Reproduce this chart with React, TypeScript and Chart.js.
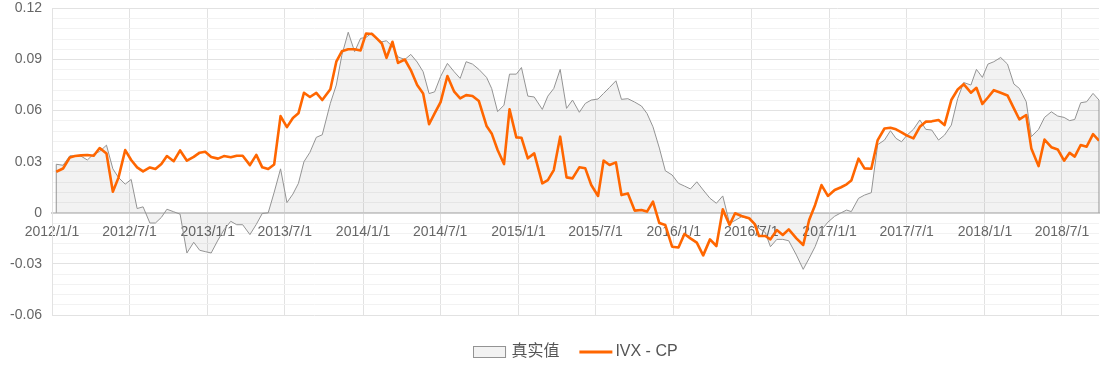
import React, { useEffect, useRef } from 'react';
import { Chart, registerables } from 'chart.js';

Chart.register(...registerables);

// Observation dates, as days since 2012-01-01
const dayOffsets = [
  10, 26, 42, 54, 68, 83, 98, 112, 128, 143, 156, 172, 186, 200, 214, 230, 243, 257, 270, 286,
  301, 317, 333, 347, 360, 374, 390, 404, 420, 434, 448, 465, 480, 494, 508, 522, 537, 552, 566, 579,
  592, 606, 621, 635, 654, 668, 681, 696, 711, 725, 738, 752, 763, 775, 786, 800, 813, 829, 843, 858,
  872, 886, 899, 913, 929, 945, 959, 973, 988, 1003, 1021, 1033, 1047, 1062, 1075, 1091, 1103, 1118, 1133, 1152,
  1165, 1179, 1194, 1209, 1223, 1239, 1253, 1267, 1283, 1296, 1310, 1325, 1338, 1353, 1369, 1385, 1398, 1412, 1427, 1441,
  1457, 1472, 1486, 1500, 1515, 1530, 1546, 1561, 1576, 1592, 1605, 1620, 1638, 1651, 1661, 1676, 1688, 1703, 1717, 1731,
  1749, 1765, 1779, 1793, 1808, 1823, 1839, 1854, 1867, 1878, 1895, 1909, 1925, 1940, 1956, 1970, 1983, 1996, 2009, 2024,
  2039, 2053, 2067, 2083, 2097, 2113, 2128, 2142, 2159, 2172, 2186, 2199, 2213, 2229, 2245, 2260, 2273, 2289, 2301, 2318,
  2332, 2348, 2363, 2378, 2391, 2403, 2417, 2431, 2446, 2460,
];

// 真实值
const truthValues = [
  0.0285, 0.0279, 0.0335, 0.0335, 0.0333, 0.031, 0.0345, 0.036, 0.0397, 0.0258, 0.0208, 0.0168, 0.0196, 0.0025, 0.0035, -0.006, -0.006, -0.0027, 0.0021, 0.0006,
  -0.0008, -0.0236, -0.0173, -0.022, -0.0228, -0.0236, -0.016, -0.01, -0.005, -0.007, -0.007, -0.0128, -0.0068, -0.0004, 0, 0.012, 0.0258, 0.006, 0.011, 0.0173,
  0.03, 0.0355, 0.0443, 0.0458, 0.0643, 0.075, 0.0925, 0.106, 0.0946, 0.1024, 0.103, 0.1057, 0.1018, 0.1004, 0.101, 0.0975, 0.0915, 0.09, 0.093, 0.0885,
  0.0828, 0.07, 0.071, 0.08, 0.0877, 0.0828, 0.0789, 0.0887, 0.0873, 0.0842, 0.0795, 0.073, 0.0594, 0.0632, 0.0814, 0.0814, 0.0853, 0.0685, 0.068, 0.0607,
  0.0685, 0.073, 0.0842, 0.0613, 0.0662, 0.059, 0.0642, 0.0662, 0.0668, 0.0701, 0.0736, 0.0775, 0.0666, 0.067, 0.065, 0.0627, 0.0583, 0.0505, 0.038, 0.0247,
  0.0222, 0.0173, 0.0157, 0.014, 0.0182, 0.0134, 0.0085, 0.0056, 0.0099, -0.0062, -0.0045, -0.0023, -0.0035, -0.006, -0.0091, -0.0116, -0.0199, -0.0156, -0.0156, -0.0164,
  -0.0248, -0.0332, -0.0267, -0.0199, -0.0101, -0.0055, -0.002, 0, 0.0016, 0.0007, 0.0085, 0.0104, 0.0118, 0.04, 0.0427, 0.0482, 0.0437, 0.0417, 0.0456, 0.049,
  0.0545, 0.049, 0.0486, 0.0427, 0.0456, 0.0515, 0.0671, 0.0765, 0.075, 0.0842, 0.0795, 0.0873, 0.0887, 0.0912, 0.0873, 0.0756, 0.073, 0.0652, 0.0447, 0.049,
  0.056, 0.0593, 0.0568, 0.056, 0.0541, 0.0548, 0.0646, 0.0652, 0.0701, 0.0662,
];

// IVX - CP
const ivxValues = [
  0.0241, 0.026, 0.0325, 0.0333, 0.0337, 0.0339, 0.0335, 0.038, 0.0348, 0.0124, 0.0205, 0.0368, 0.031, 0.0267, 0.0243, 0.0266, 0.0257, 0.0287, 0.0333, 0.0303,
  0.0366, 0.0306, 0.0328, 0.0353, 0.0358, 0.0328, 0.0318, 0.0333, 0.0326, 0.0335, 0.0335, 0.028, 0.034, 0.0267, 0.0257, 0.0284, 0.0568, 0.0503, 0.0557, 0.0584,
  0.0705, 0.068, 0.0704, 0.0662, 0.0725, 0.0887, 0.0948, 0.096, 0.096, 0.0953, 0.1053, 0.105, 0.1024, 0.0994, 0.091, 0.1004, 0.088, 0.09, 0.0838, 0.075,
  0.07, 0.052, 0.0584, 0.065, 0.0803, 0.0711, 0.0672, 0.0691, 0.0686, 0.0656, 0.051, 0.0466, 0.0369, 0.0286, 0.0607, 0.0443, 0.0441, 0.032, 0.0349, 0.0173,
  0.0192, 0.0251, 0.0447, 0.0208, 0.0202, 0.0267, 0.0261, 0.0163, 0.0099, 0.0306, 0.0281, 0.0296, 0.0104, 0.0114, 0.0013, 0.0016, 0.0007, 0.0065, -0.006, -0.0072,
  -0.0199, -0.0204, -0.0124, -0.015, -0.0175, -0.025, -0.0156, -0.0195, 0.002, -0.0071, -0.0003, -0.0019, -0.0032, -0.0066, -0.0136, -0.0136, -0.0156, -0.0101, -0.013, -0.0097,
  -0.015, -0.0189, -0.0042, 0.0046, 0.0163, 0.0099, 0.0134, 0.015, 0.0167, 0.0189, 0.0318, 0.0261, 0.0259, 0.0427, 0.0495, 0.0499, 0.049, 0.0472, 0.0453, 0.0437,
  0.0505, 0.0535, 0.0537, 0.0545, 0.0515, 0.0662, 0.0724, 0.0755, 0.0705, 0.0734, 0.0639, 0.0677, 0.072, 0.0705, 0.0689, 0.0613, 0.0548, 0.0574, 0.0378, 0.0274,
  0.043, 0.0385, 0.0372, 0.0306, 0.0352, 0.033, 0.0398, 0.0388, 0.0462, 0.0423,
];

const seriesNames = ['真实值', 'IVX - CP'];

// x-axis ticks (days since 2012-01-01) and their labels
const xTickDays = [0, 182, 366, 547, 731, 912, 1096, 1277, 1461, 1643, 1827, 2008, 2192, 2373];
const xTickLabels = [
  '2012/1/1', '2012/7/1', '2013/1/1', '2013/7/1', '2014/1/1', '2014/7/1', '2015/1/1',
  '2015/7/1', '2016/1/1', '2016/7/1', '2017/1/1', '2017/7/1', '2018/1/1', '2018/7/1',
];
const xMaxDay = 2460;

// y-axis labelled ticks; each interval holds 4 unlabelled minor grid lines
const yMajorTicks = [-0.06, -0.03, 0, 0.03, 0.06, 0.09, 0.12];
const yMinorDivisions = 5;

const FONT = '"Liberation Sans", "Noto Sans CJK SC", Arial, sans-serif';
const GRAY_LINE = '#939393';
const GRAY_FILL = 'rgba(0,0,0,0.05)';
const ORANGE = '#ff6600';

function buildYTicks() {
  const out: { value: number; major: boolean }[] = [];
  for (let i = 0; i < yMajorTicks.length; i++) {
    out.push({ value: yMajorTicks[i], major: true });
    if (i < yMajorTicks.length - 1) {
      const step = (yMajorTicks[i + 1] - yMajorTicks[i]) / yMinorDivisions;
      for (let k = 1; k < yMinorDivisions; k++) {
        out.push({ value: +(yMajorTicks[i] + step * k).toFixed(4), major: false });
      }
    }
  }
  return out;
}

const areaEdgePlugin = {
  id: 'areaEdges',
  afterDatasetDraw(chart: any, args: any) {
    if (args.index !== 0) return;
    const pts = args.meta.data;
    if (!pts.length) return;
    const zeroY = chart.scales.y.getPixelForValue(0);
    const ctx = chart.ctx;
    ctx.save();
    ctx.strokeStyle = GRAY_LINE;
    ctx.lineWidth = 1;
    [pts[0], pts[pts.length - 1]].forEach((p: any) => {
      ctx.beginPath();
      ctx.moveTo(p.x, p.y);
      ctx.lineTo(p.x, zeroY);
      ctx.stroke();
    });
    ctx.restore();
  },
};

const legendPlugin = {
  id: 'customLegend',
  afterDraw(chart: any) {
    const { ctx, chartArea } = chart;
    const ds = chart.data.datasets;
    ctx.save();
    ctx.font = '16px ' + FONT;
    const iconW = 33;
    const gapIconText = [5, 3];
    const gapItems = 20;
    const w0 = ctx.measureText(ds[0].label).width;
    const w1 = ctx.measureText(ds[1].label).width;
    const total = iconW + gapIconText[0] + w0 + gapItems + iconW + gapIconText[1] + w1;
    let x = (chartArea.left + chartArea.right) / 2 - total / 2;
    const cy = 352;
    // item 0: area swatch
    ctx.fillStyle = '#f2f2f2';
    ctx.fillRect(x, cy - 6, iconW, 12);
    ctx.strokeStyle = GRAY_LINE;
    ctx.lineWidth = 1;
    ctx.strokeRect(Math.round(x) + 0.5, Math.round(cy - 6) + 0.5, iconW - 1, 11);
    x += iconW + gapIconText[0];
    ctx.fillStyle = '#555';
    ctx.textBaseline = 'middle';
    ctx.textAlign = 'left';
    ctx.fillText(ds[0].label, x, cy);
    x += w0 + gapItems;
    // item 1: line swatch
    ctx.strokeStyle = ds[1].borderColor;
    ctx.lineWidth = 3;
    ctx.beginPath();
    ctx.moveTo(x, cy);
    ctx.lineTo(x + iconW, cy);
    ctx.stroke();
    x += iconW + gapIconText[1];
    ctx.fillText(ds[1].label, x, cy);
    ctx.restore();
  },
};

export default function App() {
  const canvasRef = useRef<HTMLCanvasElement | null>(null);

  useEffect(() => {
    const canvas = canvasRef.current;
    if (!canvas) return;
    const yTicks = buildYTicks();
    const truthPoints = dayOffsets.map((d, i) => ({ x: d, y: truthValues[i] }));
    const ivxPoints = dayOffsets.map((d, i) => ({ x: d, y: ivxValues[i] }));

    const chart = new Chart(canvas, {
      type: 'line',
      data: {
        datasets: [
          {
            label: seriesNames[0],
            data: truthPoints,
            borderColor: GRAY_LINE,
            borderWidth: 1,
            backgroundColor: GRAY_FILL,
            fill: 'origin',
            pointRadius: 0,
            pointHoverRadius: 0,
            tension: 0,
            order: 2,
          },
          {
            label: seriesNames[1],
            data: ivxPoints,
            borderColor: ORANGE,
            borderWidth: 2.6,
            backgroundColor: ORANGE,
            fill: false,
            pointRadius: 0,
            pointHoverRadius: 0,
            tension: 0,
            borderJoinStyle: 'round',
            order: 1,
          },
        ],
      },
      options: {
        animation: false,
        responsive: false,
        devicePixelRatio: 1,
        layout: { padding: { left: 8, right: 5, top: 8, bottom: 51 } },
        plugins: {
          legend: { display: false },
          tooltip: { enabled: false },
        },
        scales: {
          x: {
            type: 'linear',
            min: 0,
            max: xMaxDay,
            position: { y: 0 } as any,
            afterBuildTicks: (scale: any) => {
              scale.ticks = xTickDays.map((v) => ({ value: v }));
            },
            afterFit: (scale: any) => {
              scale.height = 0;
            },
            ticks: {
              autoSkip: false,
              maxRotation: 0,
              padding: 11,
              color: '#666',
              font: { size: 14, family: FONT },
              callback: (_v: any, i: number) => xTickLabels[i],
            },
            grid: { color: '#e2e2e2', lineWidth: 1, drawTicks: false },
            border: { display: true, color: '#cfcfcf', width: 2 },
          },
          y: {
            type: 'linear',
            min: -0.06,
            max: 0.12,
            position: 'left',
            afterBuildTicks: (scale: any) => {
              scale.ticks = yTicks.map((t) => ({ value: t.value }));
            },
            afterFit: (scale: any) => {
              scale.width = 44;
            },
            ticks: {
              autoSkip: false,
              padding: 0,
              color: '#666',
              font: { size: 14, family: FONT },
              callback: (v: any, i: number) => (yTicks[i] && yTicks[i].major ? String(+Number(v).toFixed(2)) : ''),
            },
            grid: {
              color: (c: any) => (yTicks[c.index] && yTicks[c.index].major ? '#e2e2e2' : '#f2f2f2'),
              lineWidth: 1,
              drawTicks: true,
              tickLength: 10,
              tickColor: 'rgba(0,0,0,0)',
            },
            border: { display: true, color: '#e2e2e2', width: 1 },
          },
        },
      },
      plugins: [areaEdgePlugin, legendPlugin],
    });

    return () => chart.destroy();
  }, []);

  return (
    <div style={{ position: 'absolute', left: 0, top: 0, width: 1104, height: 366, background: '#fff' }}>
      <canvas ref={canvasRef} width={1104} height={366} style={{ display: 'block' }} />
    </div>
  );
}
